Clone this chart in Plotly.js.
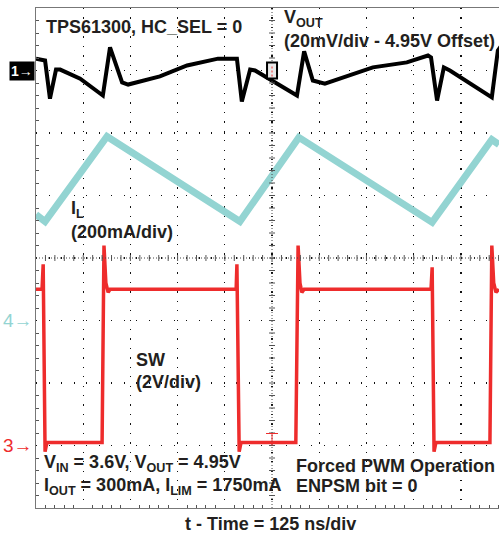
<!DOCTYPE html>
<html>
<head>
<meta charset="utf-8">
<script src="https://cdn.plot.ly/plotly-3.0.1.min.js"></script>
<style>
html,body{margin:0;padding:0;background:#fff;overflow:hidden;}
#chart{width:499px;height:540px;}
</style>
</head>
<body>
<div id="chart"></div>
<script>
// Time axis in ns (125 ns/div)
const voutTime = [0,24,37,53,64,117,177,196,228,244,328,400,482,532,545,567,580,691,710,733,765,892,982,1038,1046,1062,1080,1096,1207,1223,1242];
// VOUT ripple in mV around 4.95 V offset (20 mV/div)
const voutMv = [3.8,3.2,-9.0,0.3,0.3,-2.6,-8.0,7.4,-3.8,-4.5,-1.9,1.6,3.8,3.8,-9.9,0.3,0,-8.0,6.1,-3.2,-4.2,1.0,2.6,4.8,4.2,-9.6,1.0,0,-8.6,6.4,9.6];
// Inductor current in mA (200 mA/div)
const ilTime = [0,24,188,540,696,1049,1207,1226];
const ilMa = [339,317,589,317,586,314,579,563];
// Switch node voltage in V (2 V/div)
const swTime = [0,16,19,24,29,175,180,185,191,196,530,532,538,543,688,694,699,704,710,1046,1049,1054,1059,1202,1207,1212,1218,1226];
const swV = [5.0,5.0,5.8,-0.2,0.1,0.1,6.4,5.2,4.9,5.0,5.0,5.8,-0.2,0.1,0.1,6.4,5.2,4.9,5.0,5.0,5.7,-0.2,0.1,0.1,6.4,5.2,4.9,5.0];

const TXT = '#231f20';
const CYAN = '#93d4d2';
const RED = '#ee2c2c';
const FONT = 'Liberation Sans, Arial, sans-serif';

const traces = [
  {x: ilTime, y: ilMa, yaxis: 'y3', mode: 'lines', line: {color: CYAN, width: 7}, hoverinfo: 'skip'},
  {x: swTime, y: swV, yaxis: 'y4', mode: 'lines', line: {color: RED, width: 3.5}, hoverinfo: 'skip'},
  {x: voutTime, y: voutMv, yaxis: 'y2', mode: 'lines', line: {color: '#000', width: 4}, hoverinfo: 'skip'}
];

// graticule minor ticks on center lines
const shapes = [];
for (let i = 1; i < 40; i++) {
  shapes.push({type: 'line', xref: 'x', yref: 'y', xsizemode: 'pixel', xanchor: 625, x0: -3, x1: 3, y0: i * 0.2, y1: i * 0.2, line: {color: '#555', width: 1}});
}
for (let i = 1; i < 50; i++) {
  shapes.push({type: 'line', xref: 'x', yref: 'y', ysizemode: 'pixel', yanchor: 4, y0: -3, y1: 3, x0: i * 25, x1: i * 25, line: {color: '#555', width: 1}});
}
shapes.push({type: 'line', xref: 'x', yref: 'y', x0: 625, x1: 625, y0: 0, y1: 8, line: {color: '#444', width: 1, dash: '1px,2px'}});
shapes.push({type: 'line', xref: 'x', yref: 'y', x0: 0, x1: 1300, y0: 4, y1: 4, line: {color: '#444', width: 1, dash: '1px,2px'}});
// trigger marker
shapes.push({type: 'rect', xref: 'x', yref: 'y', xsizemode: 'pixel', xanchor: 625, x0: -5, x1: 5, ysizemode: 'pixel', yanchor: 7, y0: -8, y1: 8, fillcolor: '#e8e8e8', line: {color: '#000', width: 2}});
shapes.push({type: 'line', xref: 'x', yref: 'y', xsizemode: 'pixel', xanchor: 625, x0: 0, x1: 0, ysizemode: 'pixel', yanchor: 7, y0: -6, y1: 6, line: {color: RED, width: 1, dash: '2px,2px'}});
// ch3 level marker
shapes.push({type: 'line', xref: 'x', yref: 'y', xsizemode: 'pixel', xanchor: 625, x0: -6, x1: 6, ysizemode: 'pixel', yanchor: 1, y0: 12, y1: 12, line: {color: RED, width: 1}});
shapes.push({type: 'line', xref: 'x', yref: 'y', xsizemode: 'pixel', xanchor: 625, x0: 0, x1: 0, ysizemode: 'pixel', yanchor: 1, y0: 0, y1: 12, line: {color: RED, width: 1}});

function ann(text, x, y, extra) {
  return Object.assign({text: text, x: x, y: y, xref: 'x', yref: 'y', xanchor: 'left', yanchor: 'middle', showarrow: false,
    font: {family: FONT, size: 18, color: TXT, weight: 'bold'}}, extra || {});
}

const annotations = [
  ann('TPS61300, HC_SEL = 0', 22, 7.70),
  ann('V<sub>OUT</sub>', 652, 7.83),
  ann('(20mV/div - 4.95V Offset)', 652, 7.47),
  ann('I<sub>L</sub>', 88, 4.78),
  ann('(200mA/div)', 88, 4.41),
  ann('SW', 260, 2.37),
  ann('(2V/div)', 260, 2.02),
  ann('V<sub>IN</sub> = 3.6V, V<sub>OUT</sub> = 4.95V', 16, 0.71),
  ann('I<sub>OUT</sub> = 300mA, I<sub>LIM</sub> = 1750mA', 16, 0.35),
  ann('Forced PWM Operation', 684, 0.68),
  ann('ENPSM bit = 0', 684, 0.35),
  ann('t - Time = 125 ns/div', 620, -0.032, {yref: 'paper', xanchor: 'center', yanchor: 'middle'}),
  {text: '1\u2192', xref: 'paper', yref: 'y', x: 0, y: 7, xanchor: 'right', yanchor: 'middle', xshift: -1, showarrow: false,
    bgcolor: '#000', borderpad: 1, font: {family: FONT, size: 14, color: '#fff', weight: 'bold'}},
  {text: '4\u2192', xref: 'paper', yref: 'y', x: 0, y: 3, xanchor: 'right', yanchor: 'middle', xshift: -1, showarrow: false,
    font: {family: FONT, size: 19, color: CYAN}},
  {text: '3\u2192', xref: 'paper', yref: 'y', x: 0, y: 1, xanchor: 'right', yanchor: 'middle', xshift: -1, showarrow: false,
    font: {family: FONT, size: 19, color: RED}}
];

const layout = {
  width: 499, height: 540,
  margin: {l: 36, r: 0, t: 8, b: 32, pad: 0},
  paper_bgcolor: '#fff', plot_bgcolor: '#fff',
  showlegend: false,
  xaxis: {range: [0, 1226], dtick: 125, tick0: 0, showgrid: true, gridcolor: '#111', gridwidth: 1.3, griddash: '1.3px,8.14px',
    showticklabels: false, ticks: '', zeroline: false, showline: true, linecolor: '#777', linewidth: 1, mirror: true,
    minor: {dtick: 25, tick0: 0, ticks: 'inside', ticklen: 3, tickcolor: '#555', showgrid: false}, fixedrange: true},
  yaxis: {range: [0, 8], dtick: 1, tick0: 0, showgrid: true, gridcolor: '#111', gridwidth: 1.3, griddash: '1.3px,11.2px',
    showticklabels: false, ticks: '', zeroline: false, showline: true, linecolor: '#777', linewidth: 1, mirror: true,
    minor: {dtick: 0.2, tick0: 0, ticks: 'inside', ticklen: 3, tickcolor: '#555', showgrid: false}, fixedrange: true},
  yaxis2: {overlaying: 'y', range: [-140, 20], visible: false, fixedrange: true},
  yaxis3: {overlaying: 'y', range: [-600, 1000], visible: false, fixedrange: true},
  yaxis4: {overlaying: 'y', range: [-2, 14], visible: false, fixedrange: true},
  shapes: shapes,
  annotations: annotations
};

Plotly.newPlot('chart', traces, layout, {staticPlot: true, displayModeBar: false});
</script>
</body>
</html>
